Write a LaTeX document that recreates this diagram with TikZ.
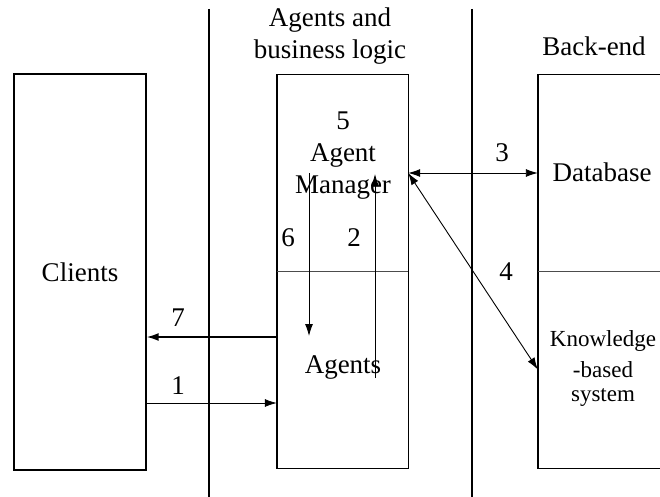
\documentclass[tikz,border=0pt]{standalone}
\usepackage{fontspec}
\setmainfont{Liberation Serif}
\usetikzlibrary{arrows.meta}
\begin{document}
\begin{tikzpicture}[x=1pt,y=-1pt,
  txt/.style={font=\fontsize{27}{30}\selectfont, inner sep=0pt, anchor=center},
  small/.style={txt, font=\fontsize{23}{26}\selectfont},
  block/.style={draw, line width=1.4pt, inner sep=0pt},
  part/.style={inner sep=0pt},
  divider/.style={draw=black!70, line width=0.7pt},
  lane/.style={line width=1.1pt},
  flow/.style={line width=0.9pt, -{Latex[length=12pt,width=8pt]}},
  twoway/.style={line width=0.9pt, {Latex[length=12pt,width=8pt]}-{Latex[length=12pt,width=8pt]}}]
  \useasboundingbox (0,0) rectangle (660,497);
  \clip (0,0) rectangle (660,497);

  % lane separators
  \coordinate (l1top) at (209,9);
  \coordinate (l1bot) at (209,497);
  \coordinate (l2top) at (472,9);
  \coordinate (l2bot) at (472,497);
  \draw[lane] (l1top) -- (l1bot);
  \draw[lane] (l2top) -- (l2bot);

  % lane headings
  \node[txt] (h1) at (330,20) {Agents and};
  \node[txt] (h2) at (330,52) {business logic};
  \node[txt] (h3) at (594,46) {Back-end};

  % clients
  \node[block, minimum width=132pt, minimum height=396pt] (clients) at (80,272) {};
  \node[txt] (clientslbl) at (80,272) {Clients};

  % agents tier: manager on top, agents below
  \node[part, minimum width=131pt, minimum height=196pt] (mgr) at (342.5,173) {};
  \node[part, minimum width=131pt, minimum height=197pt] (agents) at (342.5,369.5) {};
  \draw[block] (mgr.north west) rectangle (agents.south east);
  \draw[divider] (mgr.south west) -- (mgr.south east);

  % back-end: database on top, knowledge-based system below
  \node[part, minimum width=160pt, minimum height=196pt] (db) at (618,173) {};
  \node[part, minimum width=160pt, minimum height=197pt] (kbs) at (618,369.5) {};
  \draw[block] (db.north west) rectangle (kbs.south east);
  \draw[divider] (db.south west) -- (db.south east);

  % labels inside blocks
  \node[txt] (n5) at (343,121) {5};
  \node[txt] (mgr1) at (343,156) {Agent};
  \node[txt] (mgr2) at (343,188) {Manager};
  \node[txt] (agentslbl) at (343,367) {Agents};
  \node[txt] (dblbl) at (602,172) {Database};
  \node[small] (kb1) at (603,341) {Knowledge};
  \node[small] (kb2) at (603,370) {-based};
  \node[small] (kb3) at (603,398) {system};

  % step numbers
  \node[txt] (n6) at (288,238) {6};
  \node[txt] (n2) at (354,238) {2};
  \node[txt] (n3) at (502,153) {3};
  \node[txt] (n4) at (506,272) {4};
  \node[txt] (n7) at (178,318) {7};
  \node[txt] (n1) at (178,386) {1};

  % free ends of the internal arrows
  \coordinate (a6s) at (309,173);
  \coordinate (a6e) at (309,336);
  \coordinate (a2s) at (375,378);
  \coordinate (a2e) at (375,174);
  \coordinate (a7) at (0,337);
  \coordinate (a1) at (0,403);

  % connectors
  \draw[flow] (a6s) -- (a6e);
  \draw[flow] (a2s) -- (a2e);
  \draw[twoway] (mgr.east) -- (db.west);
  \draw[twoway] (mgr.east) -- (kbs.west);
  \draw[flow, line width=1.6pt] (agents.west |- a7) -- (clients.east |- a7);
  \draw[flow, line width=0.8pt] (clients.east |- a1) -- (agents.west |- a1);
\end{tikzpicture}
\end{document}
